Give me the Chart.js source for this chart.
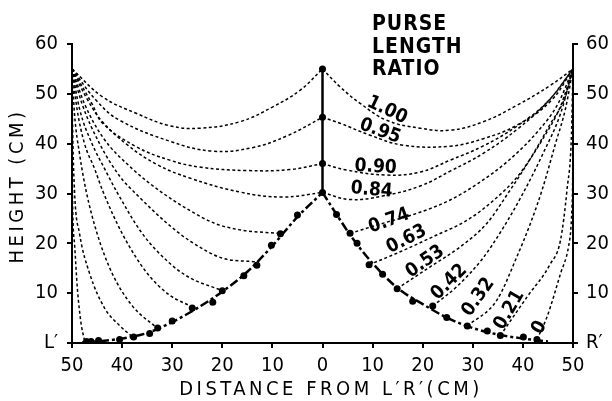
<!DOCTYPE html>
<html>
<head>
<meta charset="utf-8">
<script src="https://cdn.jsdelivr.net/npm/chart.js@4.4.1/dist/chart.umd.min.js"></script>
<style>
  html, body { margin: 0; padding: 0; background: #fff; }
  #wrap { width: 612px; height: 401px; }
</style>
</head>
<body>
<div id="wrap"><canvas id="myChart" width="612" height="401"></canvas></div>
<script>
// purse length ratios, one label per curve
const ratioLabels = ["1.00", "0.95", "0.90", "0.84", "0.74", "0.63", "0.53", "0.42", "0.32", "0.21", "0"];

// left halves of the curves: from L' top (-50,55) to the centre / envelope
const left100 = [[-50, 55], [-43.9, 49.4], [-37.2, 46.1], [-30.5, 43.6], [-24.5, 43.1], [-16.5, 44.4], [-9.9, 47.4], [-4.5, 50.7], [0, 55]];
const left095 = [[-50, 55], [-45, 48.5], [-40.5, 44.7], [-30.5, 40.5], [-22, 38.5], [-14, 39.2], [-7, 41.6], [0, 45.3]];
const left090 = [[-50, 55], [-46, 48], [-43.9, 44.1], [-37.2, 39.4], [-30.5, 36.7], [-24.5, 35.3], [-15, 34.6], [-6.5, 34.8], [0, 36]];
const left084 = [[-50, 55], [-47, 49], [-44, 44.5], [-39, 39.8], [-33, 35.8], [-26.5, 33.1], [-16.5, 30.3], [-8, 29.3], [0, 30.2]];
const left074 = [[-50, 55], [-47.5, 48], [-44, 41.5], [-38, 35], [-31.9, 30.1], [-26.5, 26.6], [-21.5, 24], [-16.5, 22.7], [-8.9, 22]];
const left063 = [[-50, 55], [-48, 48], [-44.5, 40], [-40.5, 33.5], [-36.9, 29.6], [-31, 24], [-26.5, 20.5], [-19.9, 17], [-13.5, 16.3]];
const left053 = [[-50, 55], [-48.5, 47], [-46, 40], [-43.5, 35], [-41.2, 30.6], [-36, 22], [-30.5, 16], [-26.5, 13.1], [-20.2, 10.6]];
const left042 = [[-50, 55], [-49, 47], [-47.5, 40], [-45.5, 35], [-43.9, 30.6], [-40, 22], [-35, 14], [-30.5, 9.6], [-25.9, 7.2]];
const left032 = [[-50, 55], [-49.5, 46], [-48.5, 38], [-47.2, 30.6], [-45, 22], [-42, 14], [-38, 7.5], [-32.9, 2.9]];
const left021 = [[-50, 55], [-49.9, 45], [-49.5, 30.6], [-48.5, 22], [-46.5, 14], [-43.5, 7], [-40.5, 3.5], [-37.9, 1.2]];
const left000 = [[-50, 55], [-49.97, 42], [-49.9, 30], [-49.5, 20], [-48.9, 10.6], [-48.2, 4], [-47.5, 0.5]];

// right halves: from the centre / envelope to R' top (50,55)
const right100 = [[0, 55], [3.5, 51.4], [7.5, 48.1], [12.8, 44.7], [19.5, 43.1], [25.5, 42.7], [32.1, 44.4], [38.8, 47.7], [45.5, 51.7], [50, 55]];
const right095 = [[0, 45.3], [3.5, 44.1], [9.5, 41.7], [16.1, 39.7], [25.5, 39.5], [32.1, 41], [38.8, 43.7], [45.5, 48.5], [50, 55]];
const right090 = [[0, 36], [4.8, 34.7], [12.8, 33.7], [19.5, 34.3], [25.5, 36.7], [32, 39.5], [38.8, 43.5], [45, 48.5], [50, 55]];
const right084 = [[0, 30.2], [5.5, 28.8], [12, 29.5], [19.5, 31.5], [25.5, 34.5], [32, 38], [39, 43], [45, 48.5], [50, 55]];
const right074 = [[5.5, 22], [12, 24], [18.8, 26], [25.5, 28.7], [31, 32], [37, 36.5], [43, 42.5], [47, 48], [50, 55]];
const right063 = [[9.3, 15.7], [15.5, 18.3], [22, 21.3], [28.8, 24.6], [34, 28.5], [39, 33.5], [44, 41], [47.5, 47.5], [50, 55]];
const right053 = [[14.9, 10.9], [21.5, 15.3], [27.5, 19.3], [32.8, 24], [37, 30], [41.5, 37], [45.5, 44], [48.3, 49], [50, 55]];
const right042 = [[22, 7.4], [27, 11.5], [32, 17], [36, 23], [40, 30], [44, 38], [47.5, 46], [50, 55]];
const right032 = [[28.9, 3.4], [34.8, 8.6], [38.8, 17.3], [41.5, 24], [43.8, 30.6], [46.5, 40], [48.5, 47], [50, 55]];
const right021 = [[35.5, 1.5], [40.8, 9.2], [45.5, 15.9], [47.5, 20.6], [48.8, 30.7], [49.7, 42], [50, 55]];
const right000 = [[42.8, 0.7], [44.8, 5.2], [47.5, 13.9], [49.1, 19.3], [49.8, 27.3], [49.97, 40], [50, 55]];

// measured ring positions (dots) and the fitted envelope through them
const centreDots = [[0, 55], [0, 45.3], [0, 36], [0, 30.2]];
const envelopeDots = [[-47.1, 0.3], [-46.2, 0.3], [-44.7, 0.5], [-40.5, 0.7], [-37.7, 1.2], [-34.5, 1.9], [-32.9, 3.0], [-30, 4.4], [-26, 7], [-21.9, 8.2], [-20, 10.5], [-15.7, 13.5], [-13.1, 15.6], [-10.2, 19.6], [-8.4, 21.9], [-5, 25.7], [2.8, 25.8], [5.5, 22], [6.9, 20], [9.3, 15.7], [12, 13.8], [14.9, 10.9], [18, 8.4], [22, 7.4], [24.8, 5.1], [28.9, 3.4], [32.9, 2.4], [35.5, 1.5], [40.1, 1.2], [42.8, 0.7]];
const envelopeLeft = [[-48, 0.1], [-44, 0.4], [-40, 0.9], [-35, 2], [-30, 4.2], [-25, 7], [-20, 10.3], [-15, 14.3], [-10, 19.5], [-5, 25.3], [0, 30.2]];
const envelopeRight = [[0, 30.2], [3, 25.5], [6, 21], [10, 16], [15, 11], [20, 7.8], [25, 5], [30, 3], [35, 1.7], [40, 0.9], [45, 0.3]];
const centrePost = [[0, 30.2], [0, 55]];

const yTicks = [0, 10, 20, 30, 40, 50, 60];

const FONT = '"DejaVu Sans Condensed", "DejaVu Sans", sans-serif';
const pts = arr => arr.map(p => ({ x: p[0], y: p[1] }));

// upper curves sag to a minimum: plain bezier; lower ones rise steadily: monotone
function curve(arr, sagging) {
  const ds = {
    data: pts(arr), showLine: true, pointRadius: 0, borderColor: "#000",
    borderWidth: 1.5, borderDash: [3, 2.5], fill: false,
  };
  if (sagging) ds.tension = 0.4; else ds.cubicInterpolationMode = "monotone";
  return ds;
}

const sagCurves = [left100, left095, left090, left084, right100, right095, right090, right084];
const riseCurves = [left074, left063, left053, left042, left032, left021, left000,
  right074, right063, right053, right042, right032, right021, right000];

// where the ratio labels sit (data units) and their tilt in degrees
const labelSpots = [[12.9, 46.7, 25], [11.5, 42.5, 20], [10.6, 35.3, 3], [9.8, 30.7, 5], [13.3, 24.5, -20],
  [16.8, 20.8, -27], [20.5, 16.3, -35], [25.3, 12.2, -45], [31.1, 9.2, -55], [37.3, 6.6, -60], [43.3, 3.1, -60]];

const textPlugin = {
  id: "chartTexts",
  afterDatasetsDraw(chart) {
    const { ctx, scales } = chart;
    ctx.save();
    ctx.fillStyle = "#000";
    ctx.font = "bold 19px " + FONT;
    ctx.textAlign = "center";
    ctx.textBaseline = "middle";
    ratioLabels.forEach((t, i) => {
      const s = labelSpots[i];
      ctx.save();
      ctx.translate(scales.x.getPixelForValue(s[0]), scales.y.getPixelForValue(s[1]));
      ctx.rotate(s[2] * Math.PI / 180);
      ctx.fillText(t, 0, 0);
      ctx.restore();
    });
    ctx.letterSpacing = "1px";
    ctx.font = "bold 21px " + FONT;
    ctx.textAlign = "left";
    ctx.textBaseline = "alphabetic";
    ["PURSE", "LENGTH", "RATIO"].forEach((t, i) => ctx.fillText(t, 372, 30 + i * 22.5));

    // axis titles, spaced out like the plotter lettering
    ctx.letterSpacing = "3.5px";
    ctx.font = "20px " + FONT;
    ctx.textAlign = "center";
    ctx.textBaseline = "middle";
    ctx.fillText("DISTANCE FROM L′R′(CM)", 331, 390);
    ctx.save();
    ctx.translate(18, 186);
    ctx.rotate(-Math.PI / 2);
    ctx.fillText("HEIGHT (CM)", 0, 0);
    ctx.restore();
    ctx.restore();
  }
};

function axisY(position, zeroLabel, width, pad) {
  return {
    type: "linear", position: position, min: 0, max: 60,
    afterBuildTicks: s => { s.ticks = yTicks.map(v => ({ value: v })); },
    ticks: { callback: v => v === 0 ? zeroLabel : v, color: "#000", font: { family: FONT, size: 20 }, padding: pad },
    grid: { drawOnChartArea: false, color: "#000", lineWidth: 2, tickLength: 5 },
    border: { color: "#000", width: 2 },
    afterFit: s => { s.width = width; },
  };
}

const datasets = sagCurves.map(c => curve(c, true)).concat(riseCurves.map(c => curve(c, false)));
[envelopeLeft, envelopeRight].forEach(arr => datasets.push({
  data: pts(arr), showLine: true, pointRadius: 0, borderColor: "#000",
  borderWidth: 2.5, borderDash: [9, 3, 3, 3], cubicInterpolationMode: "monotone",
}));
datasets.push({ data: pts(centrePost), showLine: true, pointRadius: 0, borderColor: "#000", borderWidth: 2.5 });
datasets.push({ data: pts(envelopeDots.concat(centreDots)), showLine: false, pointRadius: 3.5, backgroundColor: "#000", borderWidth: 0 });

const config = {
  type: "scatter",
  data: { datasets: datasets },
  options: {
    responsive: false,
    animation: false,
    events: [],
    layout: { padding: { top: 44, left: 0, right: 0, bottom: 0 } },
    plugins: { legend: { display: false }, tooltip: { enabled: false } },
    scales: {
      x: {
        type: "linear", min: -50, max: 50,
        ticks: { stepSize: 10, callback: v => Math.abs(v), color: "#000", font: { family: FONT, size: 20 }, padding: 6 },
        grid: { drawOnChartArea: false, color: "#000", lineWidth: 2, tickLength: 5 },
        border: { color: "#000", width: 2 },
        afterFit: s => { s.height = 58; },
      },
      y: axisY("left", "L′", 72, 9),
      y2: axisY("right", "R′", 39, 8),
    },
  },
  plugins: [textPlugin],
};

const myChart = new Chart(document.getElementById("myChart"), config);
</script>
</body>
</html>
